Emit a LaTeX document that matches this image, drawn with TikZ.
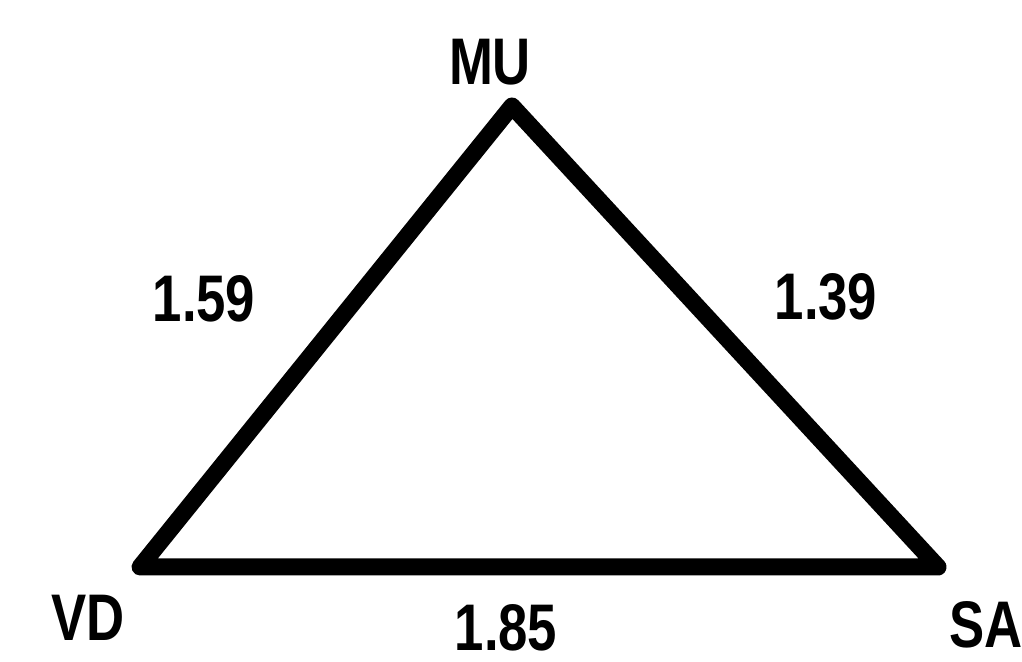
\documentclass[tikz,border=0pt]{standalone}
\usepackage{fontspec}
\setsansfont{Liberation Sans}
\usetikzlibrary{calc}

\begin{document}
\begin{tikzpicture}[line width=0.17cm, line join=round,
  lbl/.style={font=\sffamily\bfseries\fontsize{15}{18}\selectfont, inner sep=0pt, yscale=1.25, transform shape}]
  \useasboundingbox (0,0) rectangle (10.22,6.61);
  % vertices
  \coordinate (mu) at (5.12,5.55);
  \coordinate (vd) at (1.40,0.94);
  \coordinate (sa) at (9.38,0.94);
  % triangulo
  \draw (mu)--(sa)--(vd)--cycle;
  % nombres
  \node[lbl] (mulab) at (4.90,5.99) {MU};
  \node[lbl] (vdlab) at (0.88,0.43) {VD};
  \node[lbl] (salab) at (9.86,0.36) {SA};
  % distancias
  \node[lbl] (d1) at (2.04,3.62) {1.59};
  \node[lbl] (d2) at (8.26,3.64) {1.39};
  \node[lbl] (d3) at (5.06,0.33) {1.85};
\end{tikzpicture}
\end{document}
